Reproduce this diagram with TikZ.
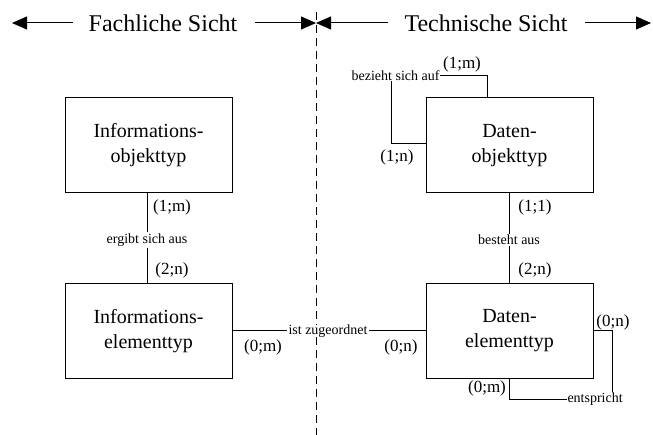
\documentclass[tikz,border=0pt]{standalone}
\usepackage{fontspec}
\setmainfont{Liberation Serif}
\usetikzlibrary{arrows.meta}
\begin{document}
\begin{tikzpicture}[x=1pt,y=-1pt,line width=1pt,
  ent/.style={draw,minimum width=167pt,minimum height=95pt,align=center,font=\fontsize{20}{25}\selectfont},
  title/.style={font=\fontsize{24}{28}\selectfont,inner sep=0pt},
  card/.style={font=\fontsize{17}{20}\selectfont,inner sep=0pt},
  rel/.style={font=\fontsize{14}{16}\selectfont,inner sep=1pt,fill=white},
  arr/.style={-{Triangle[length=15pt,width=13pt]}}]
\useasboundingbox (0,0) rectangle (653,435);
% titles
\node[title] (tf) at (163,23) {Fachliche Sicht};
\node[title] (tt) at (486,23) {Technische Sicht};
\coordinate (l1) at (12,23);
\coordinate (m1) at (316,23);
\coordinate (r1) at (651,23);
\coordinate (l1s) at (73,23);
\coordinate (m1a) at (255,23);
\coordinate (m1b) at (388,23);
\coordinate (r1s) at (585,23);
\draw[arr] (l1s) -- (l1);
\draw[arr] (m1a) -- (m1);
\draw[arr] (m1b) -- (m1);
\draw[arr] (r1s) -- (r1);
% dashed divider
\coordinate (dtop) at (316,12);
\coordinate (dbot) at (316,435);
\draw[dash pattern=on 8pt off 5pt] (dtop) -- (dbot);
% entities
\node[ent] (io) at (148.5,145.5) {Informations-\\objekttyp};
\node[ent] (ie) at (148.5,331) {Informations-\\elementtyp};
\node[ent] (do) at (509.5,145.5) {Daten-\\objekttyp};
\node[ent] (de) at (509.5,331) {Daten-\\elementtyp};
% left vertical relation
\node[rel] (r1) at (147,240) {ergibt sich aus};
\draw (io.south -| r1) -- (r1.north);
\draw (r1.south) -- (ie.north -| r1);
\node[card] at (172,207) {(1;m)};
\node[card] at (172,270) {(2;n)};
% right vertical relation
\node[rel] (r2) at (509,240) {besteht aus};
\draw (do.south -| r2) -- (r2.north);
\draw (r2.south) -- (de.north -| r2);
\node[card] at (535,207) {(1;1)};
\node[card] at (535,270) {(2;n)};
% horizontal relation
\node[rel,inner sep=0pt] (r3) at (328,331) {ist zugeordnet};
\draw (ie.east) -- ([xshift=-1pt]r3.west);
\draw ([xshift=1pt]r3.east) -- (de.west);
\node[card] at (263,347) {(0;m)};
\node[card] at (401,347) {(0;n)};
% self relation top right
\node[rel,fill=none,inner sep=0pt,anchor=east] (r4) at (440,76) {bezieht sich auf};
\coordinate (a1) at (487,74);
\coordinate (a2) at (391,144);
\draw (do.north -| a1) |- (r4.east);
\draw (r4.south -| a2) |- (do.west |- a2);
\node[card] at (462,64) {(1;m)};
\node[card] at (397,157) {(1;n)};
% self relation bottom right
\node[rel,fill=none,inner sep=0pt,anchor=west] (r5) at (567,399) {entspricht};
\coordinate (b1) at (612,331);
\draw (de.east) -| (r5.north -| b1);
\draw (de.south) |- (r5.west);
\node[card] at (613,322) {(0;n)};
\node[card] at (487,388) {(0;m)};
\end{tikzpicture}
\end{document}
